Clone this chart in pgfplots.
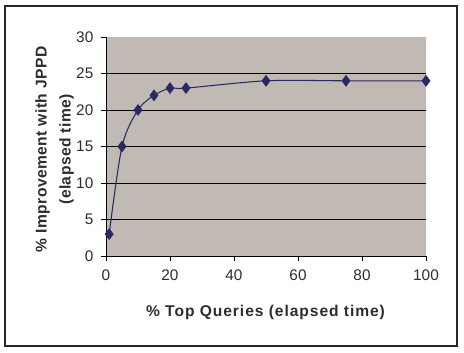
\documentclass[border=0pt]{standalone}
\usepackage{fontspec}
\setmainfont{Liberation Sans}
\usepackage{pgfplots}
\pgfplotsset{compat=1.18}
\definecolor{plotbg}{RGB}{193,186,180}
\definecolor{navy}{RGB}{40,42,100}
\definecolor{ticktxt}{RGB}{45,45,45}
\begin{document}
\begin{tikzpicture}
\useasboundingbox (0,0) rectangle (348pt,264.75pt);
\fill[white] (0,0) rectangle (348pt,264.75pt);
\draw[line width=0.8pt, black!85] (3.75pt,5.25pt) rectangle (342.75pt,260.25pt);
\begin{axis}[
  at={(79.5pt,72.75pt)}, anchor=south west,
  scale only axis, width=240pt, height=164.25pt,
  xmin=0, xmax=100, ymin=0, ymax=30,
  xtick={0,20,...,100}, ytick={0,5,...,25},
  extra y ticks={30}, extra y tick style={grid=none},
  axis background/.style={fill=plotbg},
  axis x line*=bottom, axis y line*=left,
  axis line style={-, black, line width=0.6pt},
  ymajorgrids, grid style={black, line width=0.5pt},
  tick style={black, line width=0.6pt},
  tick align=outside, major tick length=4pt,
  /pgf/number format/assume math mode=true,
  ticklabel style={font=\fontsize{11.5}{13}\selectfont, text=ticktxt},
  xticklabel style={yshift=-3pt},
  yticklabel style={xshift=-2pt},
  xlabel={\textbf{\% Top Queries (elapsed time)}},
  ylabel={\shortstack{\textbf{\% Improvement with JPPD}\\[4pt]\textbf{(elapsed time)}}},
  xlabel style={font=\fontsize{11.7}{14}\selectfont\addfontfeatures{LetterSpace=6}, text=ticktxt, yshift=-11pt},
  ylabel style={font=\fontsize{11.7}{14}\selectfont\addfontfeatures{LetterSpace=3}, text=ticktxt, yshift=-13pt, xshift=-2pt},
  clip=false,
]
\addplot[navy, line width=0.8pt, smooth, tension=0.5, mark=diamond*, mark size=3.8pt, mark options={fill=navy, draw=navy}]
  coordinates {(1,3) (5,15) (10,20) (15,22) (20,23) (25,23) (50,24) (75,24) (100,24)};
\end{axis}
\end{tikzpicture}
\end{document}
